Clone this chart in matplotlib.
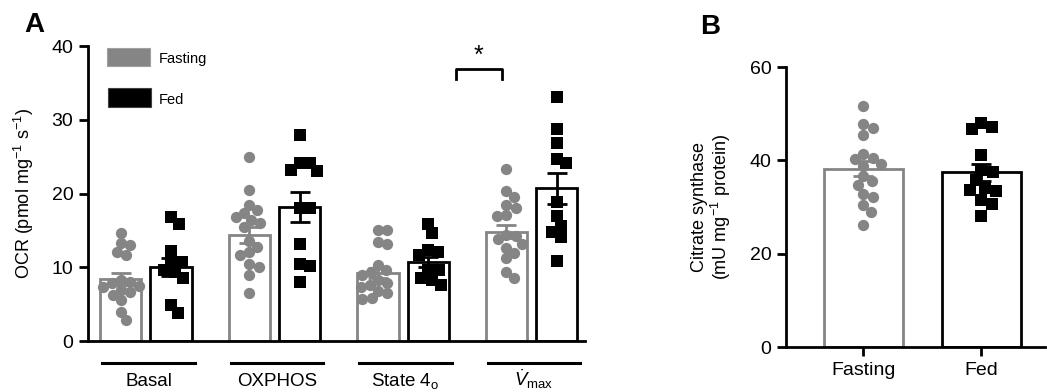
import numpy as np
import matplotlib.pyplot as plt
from matplotlib.patches import Rectangle

plt.rcParams['font.family'] = ['Liberation Sans', 'DejaVu Sans']
plt.rcParams['mathtext.fontset'] = 'custom'
plt.rcParams['mathtext.rm'] = 'Liberation Sans'
plt.rcParams['mathtext.it'] = 'Liberation Sans:italic'

# panel A data
groups = ['Basal', 'OXPHOS', 'State 4$_\\mathrm{o}$', '$\\dot{V}_\\mathrm{max}$']
fast_mean = [8.4, 14.4, 9.2, 14.8]
fast_sem = [0.8, 1.1, 0.7, 0.9]
fed_mean = [10.0, 18.2, 10.7, 20.7]
fed_sem = [1.2, 2.0, 0.7, 2.1]

fast_basal = [14.6, 13.3, 13.0, 12.1, 11.7, 8.3, 8.0, 7.9, 7.5, 7.3, 6.9, 6.6, 6.2, 5.6, 3.9, 2.8]
fast_oxphos = [25.0, 20.5, 18.4, 17.7, 17.3, 16.8, 16.4, 16.0, 15.5, 13.5, 12.8, 12.1, 11.7, 10.4, 10.1, 8.9, 6.5]
fast_state4 = [15.1, 15.1, 13.4, 13.2, 10.3, 9.6, 9.4, 8.9, 8.3, 7.8, 7.6, 7.3, 6.8, 6.5, 5.8, 5.7]
fast_vmax = [23.3, 20.3, 19.5, 18.4, 18.0, 17.1, 16.9, 14.4, 14.2, 13.8, 13.2, 12.6, 11.9, 11.2, 9.3, 8.5]

fed_basal = [16.8, 15.9, 12.2, 10.7, 10.7, 9.6, 9.4, 8.5, 4.9, 3.8]
fed_oxphos = [27.9, 24.1, 24.1, 23.2, 23.0, 18.0, 18.0, 13.2, 10.4, 10.2, 8.0]
fed_state4 = [15.9, 14.6, 12.4, 12.1, 11.7, 9.6, 9.6, 8.5, 8.3, 7.6]
fed_vmax = [33.1, 28.7, 26.8, 24.7, 24.2, 18.9, 16.9, 15.6, 14.8, 14.1, 10.8]

fast_pts = [fast_basal, fast_oxphos, fast_state4, fast_vmax]
fed_pts = [fed_basal, fed_oxphos, fed_state4, fed_vmax]

# panel B data
cs_labels = ['Fasting', 'Fed']
cs_mean = [38.2, 37.4]
cs_sem = [1.6, 1.8]
cs_fast = [51.6, 47.8, 46.9, 45.5, 41.3, 40.6, 40.2, 39.3, 38.8, 36.6, 35.6, 34.8, 32.8, 32.1, 30.4, 29.0, 26.2]
cs_fed = [48.1, 47.2, 46.7, 41.2, 37.9, 37.6, 35.7, 34.1, 33.6, 33.4, 31.4, 30.7, 28.0]

GRAY = '#858585'
BLACK = '#000000'


def swarm(vals, d, sx, sy):
    # simple beeswarm in pixel space, returns x offsets in data units
    order = np.argsort(vals)[::-1]
    placed = []
    offs = np.zeros(len(vals))
    for i in order:
        y = vals[i] * sy
        cands = [0.0]
        for (px, py) in placed:
            dy = abs(py - y)
            if dy < d:
                dx = np.sqrt(d * d - dy * dy)
                cands += [px + dx, px - dx]
        cands.sort(key=abs)
        for c in cands:
            if all((c - px) ** 2 + (y - py) ** 2 >= d * d - 1e-6 for (px, py) in placed):
                break
        placed.append((c, y))
        offs[i] = c / sx
    return offs


def style(ax):
    for s in ['top', 'right']:
        ax.spines[s].set_visible(False)
    for s in ['left', 'bottom']:
        ax.spines[s].set_linewidth(2)
    ax.tick_params(direction='out', length=6.5, width=2, labelsize=14, pad=4)


fig = plt.figure(figsize=(10.47, 3.92), dpi=100)
W, H = 1047, 392

# ---------- panel A
axA = fig.add_axes([88 / W, 1 - 341 / H, (585 - 88) / W, 295 / H])
xlimA = (-0.451, 3.416)
axA.set_xlim(xlimA)
axA.set_ylim(0, 40)
sxA = (585 - 88) / (xlimA[1] - xlimA[0])
syA = 295 / 40
off = 0.195
bw = 0.32
x = np.arange(len(groups))
axA.bar(x - off, fast_mean, bw, facecolor='white', edgecolor=GRAY, linewidth=2, zorder=1)
axA.bar(x + off, fed_mean, bw, facecolor='white', edgecolor=BLACK, linewidth=2, zorder=1)
for i in range(len(groups)):
    v = np.array(fast_pts[i])
    axA.scatter(x[i] - off + swarm(v, 9.5, sxA, syA), v, s=66, marker='o', color=GRAY,
                linewidths=0, zorder=2, clip_on=False)
    v = np.array(fed_pts[i])
    axA.scatter(x[i] + off + swarm(v, 10.5, sxA, syA), v, s=76, marker='s', color=BLACK,
                linewidths=0, zorder=2, clip_on=False)
axA.errorbar(x - off, fast_mean, yerr=fast_sem, fmt='none', ecolor=GRAY, elinewidth=2,
             capsize=7.5, capthick=2, zorder=3)
axA.errorbar(x + off, fed_mean, yerr=fed_sem, fmt='none', ecolor=BLACK, elinewidth=2,
             capsize=7.5, capthick=2, zorder=3)
style(axA)
axA.set_xticks([])
axA.set_yticks([0, 10, 20, 30, 40])
axA.set_ylabel('OCR (pmol mg$^{-1}$ s$^{-1}$)', fontsize=13, labelpad=11)

tr = axA.get_xaxis_transform()
for i, g in enumerate(groups):
    axA.plot([x[i] + 0.02 - 0.36, x[i] + 0.02 + 0.36], [-0.075, -0.075], color='black', lw=2.2,
             transform=tr, clip_on=False)
    axA.text(x[i] + 0.02, -0.151, g, transform=tr, ha='center', va='baseline', fontsize=13.5)

# significance bracket
axA.plot([2.41, 2.41, 2.77, 2.77], [35.5, 36.9, 36.9, 35.5], color='black', lw=2, clip_on=False)
axA.text(2.59, 38.6, '*', ha='center', va='center', fontsize=18)

# legend
axA.add_patch(Rectangle((0.0375, 0.932), 0.0865, 0.061, transform=axA.transAxes,
                        facecolor=GRAY, edgecolor='#a0a0a0', lw=0.8, clip_on=False))
axA.add_patch(Rectangle((0.041, 0.793), 0.085, 0.065, transform=axA.transAxes,
                        facecolor=BLACK, edgecolor='#404040', lw=0.8, clip_on=False))
axA.text(0.142, 0.955, 'Fasting', transform=axA.transAxes, va='center', fontsize=10.5)
axA.text(0.142, 0.818, 'Fed', transform=axA.transAxes, va='center', fontsize=10.5)

fig.text(34 / W, 1 - 25 / H, 'A', fontsize=20, fontweight='bold', ha='center', va='center')

# ---------- panel B
axB = fig.add_axes([786 / W, 1 - 347 / H, (1045 - 786) / W, 280 / H])
xlimB = (-0.657, 1.54)
axB.set_xlim(xlimB)
axB.set_ylim(0, 60)
sxB = (1045 - 786) / (xlimB[1] - xlimB[0])
syB = 280 / 60
xb = np.arange(2)
axB.bar(xb, cs_mean, 0.67, facecolor='white', edgecolor=[GRAY, BLACK], linewidth=2, zorder=1)
v = np.array(cs_fast)
axB.scatter(xb[0] + swarm(v, 10, sxB, syB), v, s=66, marker='o', color=GRAY, linewidths=0, zorder=2)
v = np.array(cs_fed)
axB.scatter(xb[1] + swarm(v, 11.5, sxB, syB), v, s=76, marker='s', color=BLACK, linewidths=0, zorder=2)
for i, c in enumerate([GRAY, BLACK]):
    axB.errorbar(xb[i], cs_mean[i], yerr=cs_sem[i], fmt='none', ecolor=c, elinewidth=2,
                 capsize=7.5, capthick=2, zorder=3)
style(axB)
axB.set_yticks([0, 20, 40, 60])
axB.set_xticks(xb)
axB.set_xticklabels(cs_labels, fontsize=14)
axB.set_ylabel('Citrate synthase\n(mU mg$^{-1}$ protein)', fontsize=13, labelpad=12,
               linespacing=1.05)

fig.text(710 / W, 1 - 27 / H, 'B', fontsize=20, fontweight='bold', ha='center', va='center')

fig.savefig('out.png', dpi=100)
